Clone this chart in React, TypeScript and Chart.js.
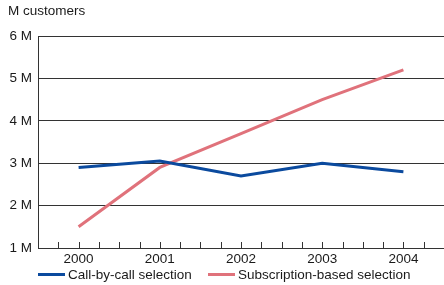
import React, { useEffect, useRef } from "react";
import { Chart, registerables } from "chart.js";
Chart.register(...registerables);

const years = [2000, 2001, 2002, 2003, 2004];
const callByCall = [2.9, 3.05, 2.7, 3.0, 2.8];
const subscription = [1.5, 2.9, 3.7, 4.5, 5.2];
const seriesLabels = ["Call-by-call selection", "Subscription-based selection"];
const yTicks = [1, 2, 3, 4, 5, 6];
const yTitle = "M customers";
const colors = ["#0b4a9e", "#e0727b"];

const FONT_FAMILY = '"Liberation Sans Narrow", "Liberation Sans", Arial, sans-serif';
const TEXT = "#1a1a1a";

const minorTicks = {
  id: "minorTicks",
  beforeDatasetsDraw(chart: any) {
    const { ctx, chartArea, scales } = chart;
    const x = scales.x;
    ctx.save();
    ctx.strokeStyle = "#333";
    ctx.lineWidth = 1;
    for (let v = x.min + 0.25; v < x.max - 0.01; v += 0.25) {
      const px = Math.round(x.getPixelForValue(v)) + 0.5;
      ctx.beginPath();
      ctx.moveTo(px, chartArea.bottom);
      ctx.lineTo(px, chartArea.bottom - 6);
      ctx.stroke();
    }
    ctx.restore();
  },
};

export default function App() {
  const ref = useRef<HTMLCanvasElement>(null);
  useEffect(() => {
    document.body.style.margin = "0";
    const font = { family: FONT_FAMILY, size: 13.5 };
    const chart = new Chart(ref.current!, {
      type: "line",
      data: {
        datasets: [
          {
            label: seriesLabels[0],
            data: years.map((y, i) => ({ x: y, y: callByCall[i] })),
            borderColor: colors[0],
            borderWidth: 3,
            pointRadius: 0,
            tension: 0,
          },
          {
            label: seriesLabels[1],
            data: years.map((y, i) => ({ x: y, y: subscription[i] })),
            borderColor: colors[1],
            borderWidth: 3,
            pointRadius: 0,
            tension: 0,
          },
        ],
      },
      options: {
        animation: false,
        responsive: false,
        maintainAspectRatio: false,
        layout: { padding: { top: 36, left: 0, right: 0, bottom: 0 } },
        plugins: { legend: { display: false }, tooltip: { enabled: false } },
        scales: {
          x: {
            type: "linear",
            min: 1999.5,
            max: 2004.5,
            afterBuildTicks: (s: any) => {
              s.ticks = years.map((v) => ({ value: v }));
            },
            afterFit: (s: any) => {
              s.height = 37;
            },
            grid: { display: false, drawTicks: false },
            border: { display: true, color: "#333", width: 1 },
            ticks: {
              padding: 3,
              font,
              color: TEXT,
              autoSkip: false,
              maxRotation: 0,
              callback: (v: any) => String(v),
            },
          },
          y: {
            min: 1,
            max: 6,
            afterBuildTicks: (s: any) => {
              s.ticks = yTicks.map((v) => ({ value: v }));
            },
            afterFit: (s: any) => {
              s.width = 38;
            },
            grid: { color: "#333", lineWidth: 1, drawTicks: false },
            border: { display: true, color: "#333", width: 1 },
            ticks: {
              padding: 6,
              font,
              color: TEXT,
              callback: (v: any) => v + " M",
            },
          },
        },
      },
      plugins: [minorTicks],
    } as any);
    return () => chart.destroy();
  }, []);

  const textStyle: React.CSSProperties = {
    position: "absolute",
    fontFamily: FONT_FAMILY,
    fontSize: 13.5,
    color: TEXT,
    whiteSpace: "nowrap",
    lineHeight: "16px",
  };

  return (
    <div style={{ position: "relative", width: 444, height: 285, background: "#fff" }}>
      <canvas ref={ref} width={444} height={285} style={{ display: "block" }} />
      <div style={{ ...textStyle, left: 8, top: 3 }}>{yTitle}</div>
      <div style={{ position: "absolute", left: 38, top: 273, width: 27, height: 3, background: colors[0] }} />
      <div style={{ ...textStyle, left: 68, top: 267 }}>{seriesLabels[0]}</div>
      <div style={{ position: "absolute", left: 208, top: 273, width: 27, height: 3, background: colors[1] }} />
      <div style={{ ...textStyle, left: 238, top: 267 }}>{seriesLabels[1]}</div>
    </div>
  );
}
